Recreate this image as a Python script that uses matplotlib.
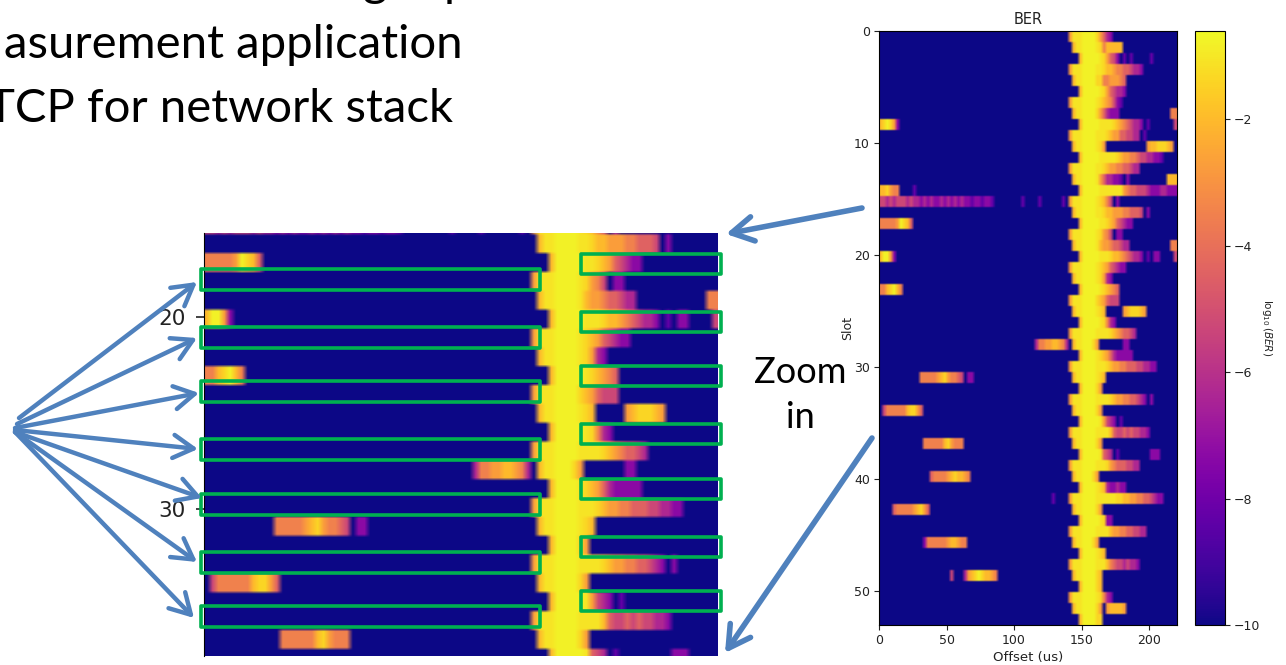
import numpy as np
import matplotlib
matplotlib.use("Agg")
import matplotlib.pyplot as plt
from matplotlib.patches import Rectangle, FancyArrowPatch

W, H = 1286, 665

# one character per bin, 54 slots. level_map gives log10(BER)
level_map = {'.': -10, '1': -8.3, '2': -7.3, '3': -6.3, '4': -5.3, '5': -4.4,
             '6': -3.5, '7': -2.7, '8': -2.0, '9': -1.4, 'b': -1.05, 'a': -0.75}

# main band, bins 56 to 87
band_rows = [
    "7bbbaaaa97532",
    ".8bbaaaab9688888",
    "...8aaaaab97542.1.1.....1",
    "7bbbaaaabb988766554332",
    ".8bbaaaa996677765",
    "...8aaaaab9754332",
    "7bbbaaaab9876421",
    ".8bbaaaa9753222...............66",
    "...8aaaaabbbb987654332.1.......4",
    "7bbbaaaabbb9877554433.1",
    ".8bbaaaab97............78899987",
    "...8aaaaabbbbb98776654433221",
    "7bbbaaaabb98776655433",
    ".8bbaaaab7533221.2...........888",
    "...8aaaaabbbbbbb7655444322233222",
    "7bbbaaaab9864.2",
    ".8bbaaaabb988777665554.2",
    "...8aaaaabb98754322",
    "7bbbaaaab9764.22",
    ".8bbaaaab877655433............66",
    "...8aaaaabbb9887654332.1.22....4",
    "7bbbaaaab98754322",
    ".8bbaaaab9732",
    "...8aaaaab98765",
    "7bbbaaaa9875444",
    ".8bbaaaab98.....7899987",
    "...8aaaaab9632",
    "7bbbaaaabbbb98765543",
    ".8bbaaa97.......22",
    "...8aaaab9875322222",
    "7bbbaaaabbb987766555443322",
    ".8bbaaaab98",
    "...8aaaa97",
    "7bbbaaaabbbb98776655432.2",
    ".8bbaaaa97",
    "...8aaaaab7432.1",
    "7bbbaaaabbbb854454544332",
    ".8bbaaaa97",
    "...8aaaaab543.1.........222",
    "7bbbaaaabbb9765554433",
    ".8bbaaa97",
    "...8aaaab98322322",
    "7bbbaaaabbbbbb99887766554322",
    ".8bbaaaa97",
    "...8aaaaab922",
    "7bbbaaaabbbb87766554433",
    ".8bbaaa97",
    "...8aaaab98",
    "7bbbaaaabbb8654434332",
    ".8bbaaaa98",
    "...8aaaa98",
    "7bbbaaaab9632",
    ".8bbaaaa97.788887",
    "...8aaaa99",
]

# the short bursts left of the band, bins 0 to 55, by slot
burst_rows = {
    8: "89a972",
    14: "889766....1",
    15: "4434344434332323223232323221221221" + "........1....1......1",
    17: "666667a985",
    20: "8aa72",
    23: "6689a86",
    28: "." * 46 + "3667788763",
    31: "." * 12 + "6666678976654.22",
    34: ".466666689975",
    37: "." * 13 + "666666897666",
    40: "." * 15 + "566667898876",
    42: "." * 51 + "1",
    43: "....56666678975",
    46: "." * 13 + "2666666788766",
    49: "." * 21 + "4...3789a98876",
}

n_left, n_right = 56, 32
x_max, y_max = 220.7, 53
v_min, v_max = -10, -0.6

ber = np.full((len(band_rows), n_left + n_right), -10.0)
for slot, row in enumerate(band_rows):
    for i, ch in enumerate(row):
        ber[slot, n_left + i] = level_map[ch]
for slot, row in burst_rows.items():
    for i, ch in enumerate(row):
        ber[slot, i] = level_map[ch]

# repeated rows keep the slots crisp when the picture is smoothed across bins
ber_show = np.repeat(ber, 6, axis=0)


def px_axes(fig, left, top, right, bottom):
    return fig.add_axes([left / W, 1 - bottom / H, (right - left) / W, (bottom - top) / H])


fig = plt.figure(figsize=(W / 100, H / 100), dpi=100)

# full plot on the right
ax = px_axes(fig, 879, 31, 1177, 625)
im = ax.imshow(ber_show, cmap="plasma", vmin=v_min, vmax=v_max, aspect="auto",
               extent=[0, x_max, y_max, 0], interpolation="bilinear", interpolation_stage="rgba")
ax.set_xticks([0, 50, 100, 150, 200])
ax.set_yticks([0, 10, 20, 30, 40, 50])
ax.tick_params(labelsize=9, length=3.5, width=0.8, pad=3, colors="#222222")
ax.set_xlabel("Offset (us)", fontsize=9.5, labelpad=3, color="#222222")
ax.set_ylabel("Slot", fontsize=9, labelpad=0, color="#222222")
ax.set_title("BER", fontsize=10.5, pad=5, color="#222222")

cax = px_axes(fig, 1195, 31, 1225, 625)
cb = fig.colorbar(im, cax=cax, ticks=[-2, -4, -6, -8, -10])
cb.ax.tick_params(labelsize=9, length=3.5, width=0.8, pad=3, colors="#222222")
cb.set_label(r"$\log_{10}(BER)$", fontsize=7.5, rotation=270, labelpad=10, color="#222222")

# zoomed crop of the same data
inset = px_axes(fig, 204, 233, 718, 656)
inset.imshow(ber_show, cmap="plasma", vmin=v_min, vmax=v_max, aspect="auto",
             extent=[0, x_max, y_max, 0], interpolation="bilinear", interpolation_stage="rgba")
inset.set_xlim(0, x_max)
inset.set_ylim(37.67, 15.59)
inset.set_xticks([])
inset.set_yticks([20, 30])
inset.tick_params(labelsize=15.5, length=6, width=1.2, pad=7, colors="#222222")
for s in ["top", "right", "bottom"]:
    inset.spines[s].set_visible(False)

# slide overlay, in pixels
over = fig.add_axes([0, 0, 1, 1], zorder=5)
over.set_xlim(0, W)
over.set_ylim(H, 0)
over.axis("off")
over.patch.set_alpha(0)

green = "#00B050"
blue = "#4F81BD"

left_tops = [268, 326, 380, 438, 493, 551, 605]
right_tops = [253, 311, 365, 423, 478, 536, 590]
for top in left_tops:
    over.add_patch(Rectangle((201, top + 1), 339, 21, fill=False, ec=green, lw=2.6, joinstyle="round"))
for top in right_tops:
    over.add_patch(Rectangle((581, top + 1), 140, 20, fill=False, ec=green, lw=2.6, joinstyle="round"))

arrow_tips = [(197, 282), (197, 338), (199, 393), (198, 449), (202, 498), (197, 562), (194, 618)]
arrow_starts = [(19, 418), (17, 424), (15, 428), (15, 430), (15, 432), (15, 432), (15, 432)]
for st, tip in zip(arrow_starts, arrow_tips):
    over.add_patch(FancyArrowPatch(st, tip, arrowstyle="->,head_length=5.6,head_width=3.2",
                                   color=blue, lw=3.2, mutation_scale=2.6,
                                   shrinkA=0, shrinkB=0, capstyle="round"))

for st, tip in [((862, 208), (726, 234)), ((872, 438), (725, 653))]:
    over.add_patch(FancyArrowPatch(st, tip, arrowstyle="->,head_length=6,head_width=3.4",
                                   color=blue, lw=4, mutation_scale=2.6,
                                   shrinkA=0, shrinkB=0, capstyle="round"))

slide_font = "Lato"
over.text(463, 58, "asurement application", fontsize=34, family=slide_font, ha="right", va="baseline", color="black")
over.text(453, 122, "TCP for network stack", fontsize=34, family=slide_font, ha="right", va="baseline", color="black")
over.text(363, -4, "g", fontsize=34, family=slide_font, ha="left", va="baseline", color="black")
over.text(444, -4, "p", fontsize=34, family=slide_font, ha="left", va="baseline", color="black")
over.text(800, 383, "Zoom", fontsize=26, family=slide_font, ha="center", va="baseline", color="black")
over.text(800, 428, "in", fontsize=26, family=slide_font, ha="center", va="baseline", color="black")

fig.savefig("out.png", dpi=100)
